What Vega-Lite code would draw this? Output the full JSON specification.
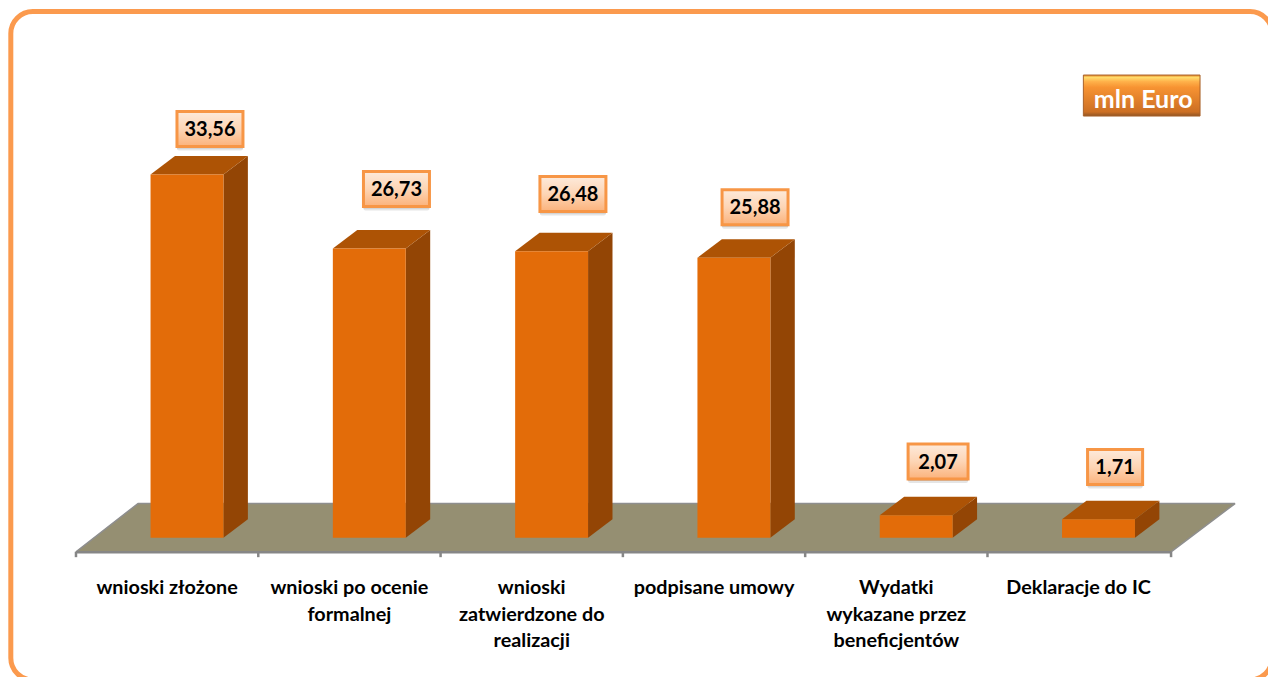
{
"$schema":"https://vega.github.io/schema/vega-lite/v6.json",
"width":1268,"height":677,"padding":0,"autosize":{"type":"none"},"background":"white",
"config":{"view":{"stroke":null},"text":{"font":"Lato"}},
"data":{"values":[
{"etap":"wnioski złożone","mln":33.56},
{"etap":"wnioski po ocenie\nformalnej","mln":26.73},
{"etap":"wnioski\nzatwierdzone do\nrealizacji","mln":26.48},
{"etap":"podpisane umowy","mln":25.88},
{"etap":"Wydatki\nwykazane przez\nbeneficjentów","mln":2.07},
{"etap":"Deklaracje do IC","mln":1.71}
]},
"transform":[
{"window":[{"op":"row_number","as":"n"}]},
{"calculate":"datum.n-1","as":"i"},
{"calculate":"0","as":"zero"},
{"calculate":"datum.i-0.2","as":"bx0"},
{"calculate":"datum.i+0.2","as":"bx1"},
{"calculate":"datum.i+[0.126,0.149,0.117,0.116,0.12,0.091][datum.i]","as":"lx"},
{"calculate":"datum.mln+[4.21,5.5,5.29,4.67,4.97,4.82][datum.i]","as":"ly"},
{"calculate":"[0.181,0.181,0.181,0.181,0.1645,0.151][datum.i]","as":"lw"},
{"calculate":"datum.lx-datum.lw","as":"lx0"},
{"calculate":"datum.lx+datum.lw","as":"lx1"},
{"calculate":"datum.ly-1.617","as":"ly0"},
{"calculate":"datum.ly+1.617","as":"ly1"},
{"calculate":"replace(format(datum.mln,'.2f'),'.',',')","as":"tekst"},
{"calculate":"datum.i-0.109","as":"catx"},
{"calculate":"-3.75","as":"caty"}
],
"layer":[
{"data":{"values":[{"ramka":"obramowanie"}]},
 "transform":[{"calculate":"-0.9665","as":"a"},{"calculate":"5.952","as":"b"},{"calculate":"48.63","as":"c"},{"calculate":"-13.15","as":"d"}],
 "mark":{"type":"rect","clip":true,"cornerRadius":22,"fill":"white","stroke":"#fb9a4e","strokeWidth":5},
 "encoding":{
  "x":{"field":"a","type":"quantitative","axis":null,"scale":{"domain":[-1.0258,5.9298],"nice":false,"zero":false}},
  "x2":{"field":"b"},
  "y":{"field":"c","type":"quantitative","axis":null,"scale":{"domain":[-12.874,49.695],"nice":false,"zero":false}},
  "y2":{"field":"d"}}},
{"data":{"values":[{"p":-1.307,"a":-0.609,"b":5.398},{"p":3.156,"a":-0.269,"b":5.749}]},
 "mark":{"type":"area","orient":"horizontal","fill":"#958f72","stroke":"#8e8e8e","strokeWidth":1.5,"strokeJoin":"bevel"},
 "encoding":{"y":{"field":"p","type":"quantitative","axis":null},"x":{"field":"a","type":"quantitative","axis":null},"x2":{"field":"b"}}},
{"data":{"values":[{"a":-0.609,"b":5.398,"p":-1.35}]},
 "mark":{"type":"rule","color":"#868686","strokeWidth":2.5},
 "encoding":{"x":{"field":"a","type":"quantitative","axis":null},"x2":{"field":"b"},"y":{"field":"p","type":"quantitative","axis":null}}},
{"data":{"values":[{"t":-0.609},{"t":0.391},{"t":1.391},{"t":2.391},{"t":3.391},{"t":4.391},{"t":5.398}]},
 "transform":[{"calculate":"-1.3","as":"a"},{"calculate":"-1.8","as":"b"}],
 "mark":{"type":"rule","color":"#868686","strokeWidth":2.5},
 "encoding":{"x":{"field":"t","type":"quantitative","axis":null},"y":{"field":"a","type":"quantitative","axis":null},"y2":{"field":"b"}}},
{"transform":[
  {"calculate":"[datum.i+0.2,datum.i+0.334]","as":"sx"},
  {"calculate":"[0,1.71]","as":"s0"},
  {"calculate":"[datum.mln,datum.mln+1.71]","as":"s1"},
  {"flatten":["sx","s0","s1"]}],
 "mark":{"type":"area","color":"#934505"},
 "encoding":{"x":{"field":"sx","type":"quantitative","axis":null},"y":{"field":"s0","type":"quantitative","axis":null},"y2":{"field":"s1"},"detail":{"field":"i","type":"nominal"}}},
{"transform":[
  {"calculate":"[datum.mln,datum.mln+1.71]","as":"ty"},
  {"calculate":"[datum.i-0.2,datum.i-0.066]","as":"ta"},
  {"calculate":"[datum.i+0.2,datum.i+0.334]","as":"tb"},
  {"flatten":["ty","ta","tb"]}],
 "mark":{"type":"area","orient":"horizontal","color":"#ad5305"},
 "encoding":{"y":{"field":"ty","type":"quantitative","axis":null},"x":{"field":"ta","type":"quantitative","axis":null},"x2":{"field":"tb"},"detail":{"field":"i","type":"nominal"}}},
{"mark":{"type":"rect","color":"#e36c09"},
 "encoding":{"x":{"field":"bx0","type":"quantitative","axis":null},"x2":{"field":"bx1"},"y":{"field":"zero","type":"quantitative","axis":null},"y2":{"field":"mln"}}},
{"mark":{"type":"rect","color":"#000000","opacity":0.1,"yOffset":4,"cornerRadius":2},
 "encoding":{"x":{"field":"lx0","type":"quantitative","axis":null},"x2":{"field":"lx1"},"y":{"field":"ly0","type":"quantitative","axis":null},"y2":{"field":"ly1"}}},
{"mark":{"type":"rect","color":"#000000","opacity":0.15,"yOffset":2},
 "encoding":{"x":{"field":"lx0","type":"quantitative","axis":null},"x2":{"field":"lx1"},"y":{"field":"ly0","type":"quantitative","axis":null},"y2":{"field":"ly1"}}},
{"mark":{"type":"rect","stroke":"#f79646","strokeWidth":3,
  "fill":{"gradient":"linear","x1":0,"y1":0,"x2":0,"y2":1,"stops":[{"offset":0,"color":"#fdeadb"},{"offset":0.5,"color":"#fdd5b5"},{"offset":1,"color":"#fbb27b"}]}},
 "encoding":{"x":{"field":"lx0","type":"quantitative","axis":null},"x2":{"field":"lx1"},"y":{"field":"ly0","type":"quantitative","axis":null},"y2":{"field":"ly1"}}},
{"mark":{"type":"text","font":"Lato","fontWeight":"bold","fontSize":20,"dy":1,"color":"#000000","align":"center","baseline":"middle"},
 "encoding":{"x":{"field":"lx","type":"quantitative","axis":null},"y":{"field":"ly","type":"quantitative","axis":null},"text":{"field":"tekst","type":"nominal"}}},
{"mark":{"type":"text","font":"Lato","fontWeight":"bold","fontSize":19.8,"color":"#000000","align":"center","baseline":"top","lineBreak":"\n","lineHeight":26.5},
 "encoding":{"x":{"field":"catx","type":"quantitative","axis":null},"y":{"field":"caty","type":"quantitative","axis":null},"text":{"field":"etap","type":"nominal"}}},
{"data":{"values":[{"jednostka":"mln Euro","a":4.917,"b":5.557,"c":42.76,"d":38.97,"tx":5.245,"ty":40.48}]},
 "layer":[
 {"mark":{"type":"rect","color":"#000000","opacity":0.12,"yOffset":5},
  "encoding":{"x":{"field":"a","type":"quantitative","axis":null},"x2":{"field":"b"},"y":{"field":"c","type":"quantitative","axis":null},"y2":{"field":"d"}}},
 {"mark":{"type":"rect","stroke":"#a9622a","strokeWidth":1,
   "fill":{"gradient":"linear","x1":0,"y1":0,"x2":0,"y2":1,"stops":[{"offset":0,"color":"#e58a2a"},{"offset":0.06,"color":"#ffdb6b"},{"offset":0.16,"color":"#ffb14a"},{"offset":0.3,"color":"#f79332"},{"offset":0.9,"color":"#cc6f24"},{"offset":1,"color":"#8f5424"}]}},
  "encoding":{"x":{"field":"a","type":"quantitative","axis":null},"x2":{"field":"b"},"y":{"field":"c","type":"quantitative","axis":null},"y2":{"field":"d"}}},
 {"mark":{"type":"text","font":"Lato","fontWeight":"bold","fontSize":25,"color":"#ffffff","align":"center","baseline":"middle"},
  "encoding":{"x":{"field":"tx","type":"quantitative","axis":null},"y":{"field":"ty","type":"quantitative","axis":null},"text":{"field":"jednostka","type":"nominal"}}}
 ]}
]
}
